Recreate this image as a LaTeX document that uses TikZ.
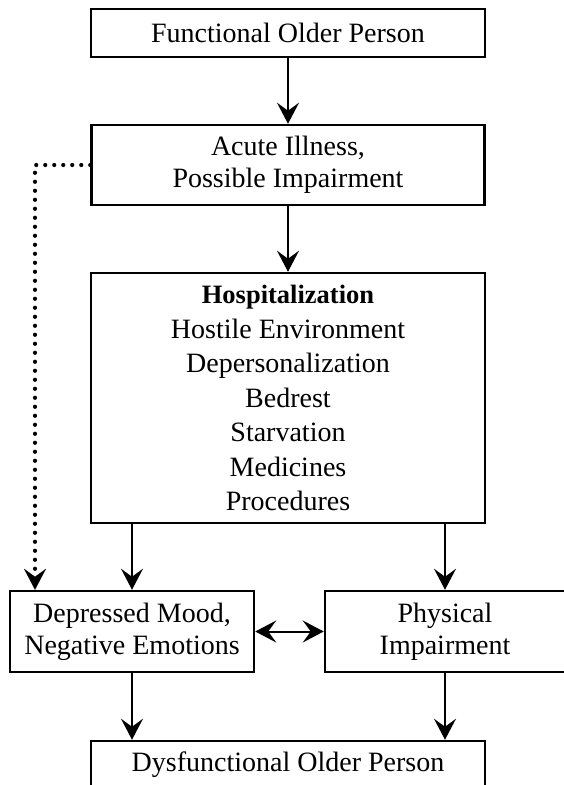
\documentclass[tikz,border=0pt]{standalone}
\usepackage{fontspec}
\setmainfont{Liberation Serif}
\usetikzlibrary{arrows.meta}
\begin{document}
\begin{tikzpicture}[x=1pt,y=-1pt,
  box/.style={draw, line width=2.5pt, inner sep=0pt, align=center,
    font=\fontsize{28}{32}\selectfont},
  flow/.style={line width=2pt, -{Stealth[length=21pt,width=22pt,inset=8pt]}},
  both/.style={line width=2pt,
    {Stealth[length=21pt,width=22pt,inset=8pt]}-{Stealth[length=21pt,width=22pt,inset=8pt]}},
  hint/.style={line width=4.2pt, line cap=round, dash pattern=on 0pt off 9pt,
    -{Stealth[length=21pt,width=22pt,inset=8pt,line width=0.1pt]}}]
  \path[use as bounding box] (0,0) rectangle (563,785);

  % boxes
  \node[box, minimum width=394pt, minimum height=48pt] (fop) at (288,33)
    {Functional Older Person};
  \node[box, minimum width=393pt, minimum height=80pt] (ill) at (288,165)
    {Acute Illness,\\Possible Impairment};
  \node[box, minimum width=394pt, minimum height=250pt,
    font=\fontsize{28}{34.5}\selectfont] (hosp) at (288,398)
    {{\fontsize{26.5}{34.5}\selectfont\bfseries Hospitalization}\\Hostile Environment\\Depersonalization\\Bedrest\\Starvation\\Medicines\\Procedures};
  \node[box, minimum width=244pt, minimum height=81pt] (mood) at (132,631.5)
    {Depressed Mood,\\Negative Emotions};
  \node[box, minimum width=240pt, minimum height=81pt] (phys) at (445,631.5)
    {Physical\\Impairment};
  \node[box, minimum width=394pt, minimum height=48pt] (dys) at (288,765)
    {Dysfunctional Older Person};

  % main flow
  \draw[flow] (fop) -- (ill);
  \draw[flow] (ill) -- (hosp);
  \draw[flow] (hosp.south -| mood.north) -- (mood.north);
  \draw[flow] (hosp.south -| phys.north) -- (phys.north);
  \draw[flow] (mood.south) -- (mood.south |- dys.north);
  \draw[flow] (phys.south) -- (phys.south |- dys.north);
  \draw[both] (mood.east) -- (phys.west);

  % direct path from illness to mood
  \coordinate (bend) at (35,165);
  \draw[hint] (ill.west) -- (bend) -- (bend |- mood.north);
\end{tikzpicture}
\end{document}
